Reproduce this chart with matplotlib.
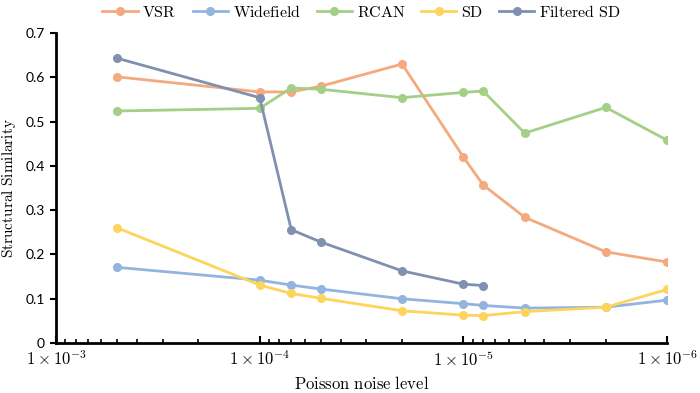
import matplotlib
matplotlib.use("Agg")
import matplotlib.pyplot as plt
from matplotlib.ticker import FixedLocator, LogLocator, NullFormatter

# noise levels (x) and structural similarity per method
noise = [5e-4, 1e-4, 7e-5, 5e-5, 2e-5, 1e-5, 8e-6, 5e-6, 2e-6, 1e-6]
vsr = [0.601, 0.567, 0.567, 0.580, 0.630, 0.420, 0.357, 0.284, 0.206, 0.183]
widefield = [0.171, 0.142, 0.131, 0.122, 0.100, 0.089, 0.085, 0.079, 0.081, 0.097]
rcan = [0.524, 0.530, 0.576, 0.573, 0.554, 0.566, 0.569, 0.474, 0.532, 0.458]
sd = [0.260, 0.131, 0.112, 0.101, 0.073, 0.063, 0.062, 0.071, 0.081, 0.121]
filtered_sd = [0.643, 0.554, 0.256, 0.228, 0.163, 0.133, 0.130]

xticks = [1e-3, 1e-4, 1e-5, 1e-6]
xticklabels = [r"$1\times10^{-3}$", r"$1\times10^{-4}$", r"$1\times10^{-5}$", r"$1\times10^{-6}$"]
yticks = [0, 0.1, 0.2, 0.3, 0.4, 0.5, 0.6, 0.7]
yticklabels = ["0", "0.1", "0.2", "0.3", "0.4", "0.5", "0.6", "0.7"]

plt.rcParams["mathtext.fontset"] = "cm"

fig = plt.figure(figsize=(7, 3.93), dpi=100)
ax = fig.add_axes([0.08, 0.127, 0.873, 0.789])

series = [
    ("VSR", noise, vsr, "#F4A97E"),
    ("Widefield", noise, widefield, "#93B4E0"),
    ("RCAN", noise, rcan, "#A3CF86"),
    ("SD", noise, sd, "#FDD45C"),
    ("Filtered SD", noise[:len(filtered_sd)], filtered_sd, "#7F91AE"),
]
for name, xs, ys, c in series:
    ax.plot(xs, ys, color=c, lw=2, marker="o", ms=5.5, label=r"$\mathrm{" + name.replace(" ", r"\ ") + "}$")

ax.set_xscale("log")
ax.set_xlim(1e-3, 1e-6)
ax.set_ylim(0, 0.7)

ax.xaxis.set_major_locator(FixedLocator(xticks))
ax.set_xticklabels(xticklabels, fontsize=12)
ax.xaxis.set_minor_locator(LogLocator(base=10, subs=range(2, 10)))
ax.xaxis.set_minor_formatter(NullFormatter())
ax.tick_params(axis="x", which="major", direction="in", length=5, width=1.5, pad=5)
ax.tick_params(axis="x", which="minor", direction="in", length=3, width=1.2)

ax.set_yticks(yticks)
ax.set_yticklabels(yticklabels, fontsize=10, family="Lato")
ax.tick_params(axis="y", direction="out", length=4, width=1.5, pad=4)

for s in ["top", "right"]:
    ax.spines[s].set_visible(False)
for s in ["left", "bottom"]:
    ax.spines[s].set_linewidth(2)

ax.set_xlabel(r"$\mathrm{Poisson\ noise\ level}$", fontsize=12, labelpad=4)
ax.set_ylabel(r"$\mathrm{Structural\ Similarity}$", fontsize=11)
ax.yaxis.set_label_coords(-0.062, 0.5)

ax.legend(loc="center", bbox_to_anchor=(0.5, 1.068), ncol=5, frameon=False,
          fontsize=11.5, handlelength=2.2, handletextpad=0.3, columnspacing=1.0,
          borderaxespad=0, borderpad=0)

fig.savefig("out.png", dpi=100)
